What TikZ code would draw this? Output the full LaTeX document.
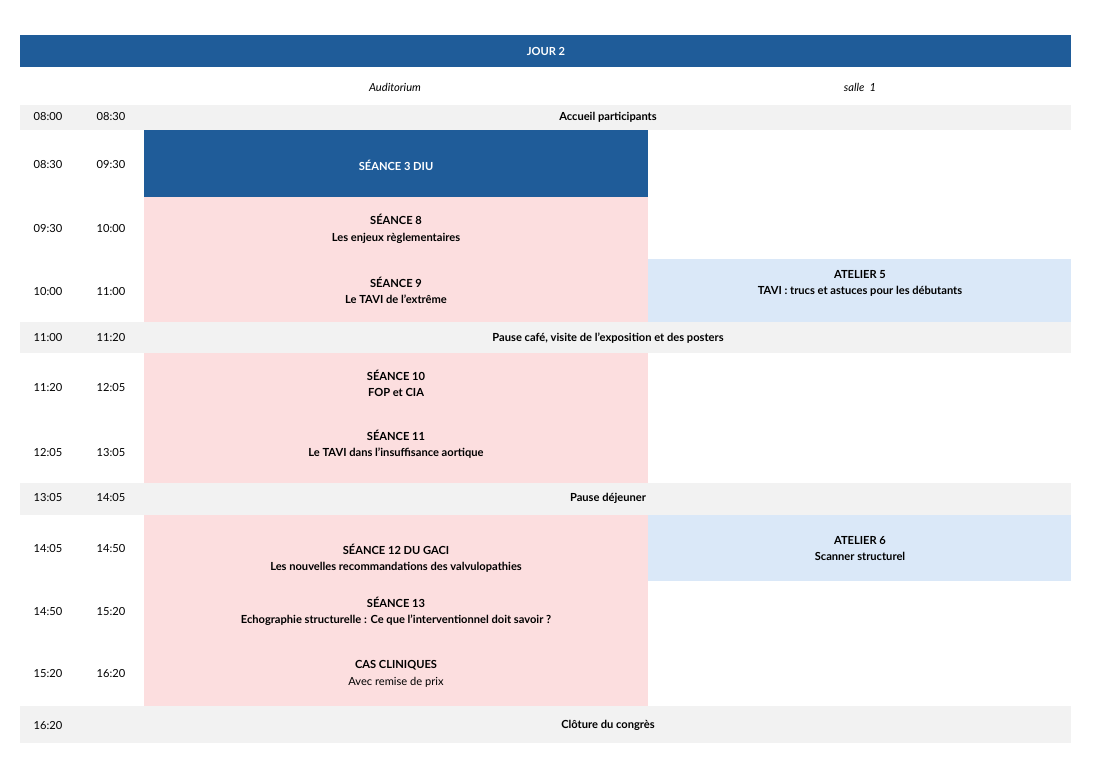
\documentclass[tikz,border=0pt]{standalone}
\usepackage{fontspec}
\setmainfont{Lato}
\definecolor{bleu}{HTML}{1F5C99}
\definecolor{rose}{HTML}{FCDEDF}
\definecolor{ciel}{HTML}{DAE8F8}
\definecolor{gris}{HTML}{F2F2F2}
\tikzset{
  txt/.style={font=\fontsize{9.5}{14}\selectfont\bfseries, align=center},
  heure/.style={font=\fontsize{9.5}{12}\selectfont},
  salle/.style={font=\fontsize{9.5}{12}\selectfont\itshape}
}
\newcommand{\creneau}[4]{% y, debut, fin, name
  \node[heure] (#4a) at (48,#1) {#2};
  \node[heure] (#4b) at (111,#1) {#3};}
\begin{document}
\begin{tikzpicture}[x=0.03cm, y=-0.03cm]
      \useasboundingbox (0,0) rectangle (1100,768);
      % fonds
      \fill[bleu] (20,35) rectangle (1071,67);
      \fill[gris] (20,105) rectangle (1071,130);
      \fill[bleu] (144,130) rectangle (648,197);
      \fill[rose] (144,197) rectangle (648,322);
      \fill[ciel] (648,259) rectangle (1071,322);
      \fill[gris] (20,322) rectangle (1071,353);
      \fill[rose] (144,353) rectangle (648,483);
      \fill[gris] (20,483) rectangle (1071,515);
      \fill[rose] (144,515) rectangle (648,706);
      \fill[ciel] (648,515) rectangle (1071,581);
      \fill[gris] (20,706) rectangle (1071,743);
      % textes
      \node[txt, white] (jour) at (546,51) {JOUR 2};
      \node[salle] (audi) at (395,87) {Auditorium};
      \node[salle] (s1) at (860,87) {salle\ \ 1};
      \creneau{117}{08:00}{08:30}{r1}
      \node[txt] (accueil) at (608,117) {Accueil participants};
      \creneau{165}{08:30}{09:30}{r2}
      \node[txt, white] (diu) at (396,165) {SÉANCE 3 DIU};
      \creneau{229}{09:30}{10:00}{r3}
      \node[txt] (s8) at (396,229) {SÉANCE 8\\Les enjeux règlementaires};
      \creneau{292}{10:00}{11:00}{r4}
      \node[txt] (s9) at (396,290.5) {SÉANCE 9\\Le TAVI de l'extrême};
      \node[txt] (at5) at (860,283.5) {ATELIER 5\\TAVI : trucs et astuces pour les débutants};
      \creneau{338}{11:00}{11:20}{r5}
      \node[txt] (cafe) at (608,338) {Pause café, visite de l'exposition et des posters};
      \creneau{388}{11:20}{12:05}{r6}
      \node[txt] (s10) at (396,383.5) {SÉANCE 10\\FOP et CIA};
      \creneau{453}{12:05}{13:05}{r7}
      \node[txt] (s11) at (396,444.5) {SÉANCE 11\\Le TAVI dans l'insuffisance aortique};
      \creneau{498}{13:05}{14:05}{r8}
      \node[txt] (dej) at (608,498) {Pause déjeuner};
      \creneau{549}{14:05}{14:50}{r9}
      \node[txt] (s12) at (396,558.5) {SÉANCE 12 DU GACI\\Les nouvelles recommandations des valvulopathies};
      \node[txt] (at6) at (860,548.5) {ATELIER 6\\Scanner structurel};
      \creneau{612}{14:50}{15:20}{r10}
      \node[txt] (s13) at (396,611.5) {SÉANCE 13\\Echographie structurelle : Ce que l'interventionnel doit savoir ?};
      \creneau{674}{15:20}{16:20}{r11}
      \node[txt] (cas) at (396,674) {CAS CLINIQUES\\\mdseries Avec remise de prix};
      \node[heure] (r12a) at (48,726) {16:20};
      \node[txt] (cloture) at (608,725) {Clôture du congrès};
\end{tikzpicture}
\end{document}
